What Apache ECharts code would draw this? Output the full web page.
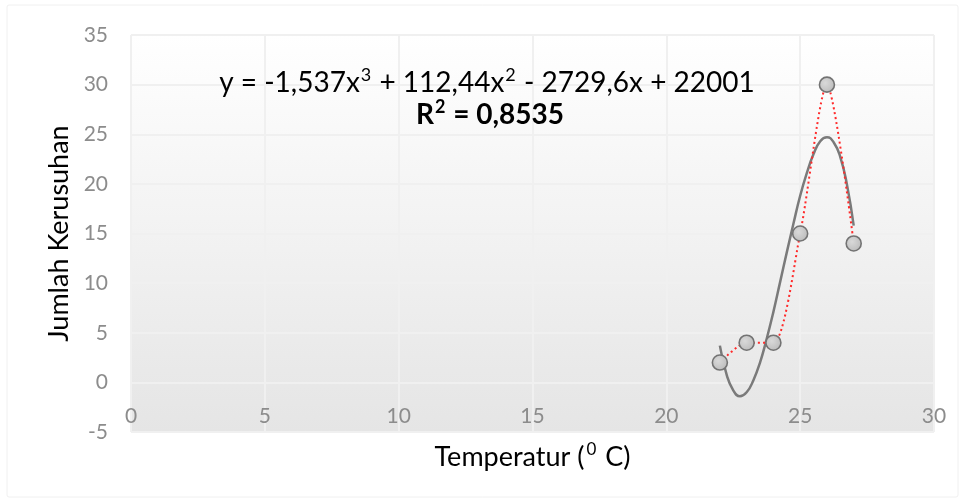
<!DOCTYPE html>
<html>
<head>
<meta charset="utf-8">
<script src="https://cdn.jsdelivr.net/npm/echarts@6/dist/echarts.min.js"></script>
<style>html,body{margin:0;padding:0;background:#fff}#c{width:966px;height:504px}</style>
</head>
<body>
<div id="c"></div>
<script>
// Observed data points
const temps = [22, 23, 24, 25, 26, 27];
const riots = [2, 4, 4, 15, 30, 14];
// Polynomial trendline
const trendX = [22, 22.25, 22.5, 22.75, 23, 23.25, 23.5, 23.75, 24, 24.25, 24.5, 24.75, 25, 25.25, 25.5, 25.75, 26, 26.25, 26.5, 26.75, 27];
const trendY = [3.7, 0.8, -0.8, -1.4, -1.0, 0.2, 2.0, 4.4, 7.1, 10.1, 13.1, 16.0, 18.8, 21.1, 23.0, 24.3, 24.7, 24.2, 22.7, 19.9, 15.8];
const xTicks = [0, 5, 10, 15, 20, 25, 30];
const yTicks = [-5, 0, 5, 10, 15, 20, 25, 30, 35];
const equationText = '{a|y = -1,537x}{s|3}{a| + 112,44x}{s|2}{a| - 2729,6x + 22001}';
const r2Text = '{b|R}{bs|2}{b| = 0,8535}';

const FONT = 'Lato, "Open Sans", sans-serif';
const chart = echarts.init(document.getElementById('c'), null, {renderer: 'canvas'});
const gridCol = '#f0f0f0';
// plot bottom at 432px, value 0 lies 1/8 of 397px above it
const zeroOffset = -397 / 8;
chart.setOption({
  animation: false,
  backgroundColor: '#ffffff',
  grid: {
    left: 131, right: 32, top: 35, bottom: 72,
    show: true, borderWidth: 0,
    backgroundColor: new echarts.graphic.LinearGradient(0, 0, 0, 1, [
      {offset: 0, color: '#ffffff'}, {offset: 1, color: '#e5e5e5'}
    ])
  },
  xAxis: {
    type: 'value', min: xTicks[0], max: xTicks[xTicks.length - 1], interval: 5,
    position: 'bottom', offset: zeroOffset,
    axisLine: {show: true, onZero: false, lineStyle: {color: gridCol, width: 2}},
    axisTick: {show: false},
    splitLine: {show: true, lineStyle: {color: gridCol, width: 2}},
    axisLabel: {color: '#8c8c8c', fontSize: 21, fontFamily: FONT, margin: 23},
    name: '{a|Temperatur (}{s|0}{a| C)}',
    nameLocation: 'middle', nameGap: 59,
    nameTextStyle: {
      rich: {
        a: {fontSize: 27, fontFamily: FONT, color: '#000', lineHeight: 32},
        s: {fontSize: 17, fontFamily: FONT, color: '#000', verticalAlign: 'top', lineHeight: 32, padding: [0, 2, 12, 2]}
      }
    }
  },
  yAxis: {
    type: 'value', min: yTicks[0], max: yTicks[yTicks.length - 1], interval: 5,
    axisLine: {show: false, onZero: false},
    axisTick: {show: false},
    splitLine: {show: true, lineStyle: {color: gridCol, width: 2}},
    axisLabel: {color: '#8c8c8c', fontSize: 21, fontFamily: FONT, margin: 23},
    name: 'Jumlah Kerusuhan',
    nameLocation: 'middle', nameGap: 54,
    nameTextStyle: {fontSize: 27, fontFamily: FONT, color: '#000'}
  },
  series: [
    {
      type: 'line', data: trendX.map((x, i) => [x, trendY[i]]),
      smooth: true, showSymbol: false, symbol: 'none', silent: true,
      lineStyle: {color: '#7a7a7a', width: 2.5}, z: 2
    },
    {
      type: 'line', data: temps.map((x, i) => [x, riots[i]]),
      smooth: 0.25, symbol: 'circle', symbolSize: 15, showSymbol: true,
      lineStyle: {color: '#ff2a2a', width: 2, type: [2, 3]},
      itemStyle: {
        color: new echarts.graphic.RadialGradient(0.4, 0.4, 0.7, [
          {offset: 0, color: '#d9d9d9'}, {offset: 1, color: '#b8b8b8'}
        ]),
        borderColor: '#737373', borderWidth: 1.6
      }, z: 3
    }
  ],
  graphic: [
    {type: 'rect', z: -10, shape: {x: 7, y: 5, width: 951, height: 492, r: 2}, style: {fill: 'none', stroke: '#f0f0f0', lineWidth: 1}, silent: true},
    {type: 'text', z: 100, x: 487, y: 83, style: {
      text: equationText, align: 'center', verticalAlign: 'middle',
      rich: {
        a: {fontSize: 28, fontFamily: FONT, fill: '#000', lineHeight: 34},
        s: {fontSize: 18, fontFamily: FONT, fill: '#000', lineHeight: 34, verticalAlign: 'top', padding: [0, 1, 14, 1]}
      }
    }},
    {type: 'text', z: 100, x: 490, y: 115, style: {
      text: r2Text, align: 'center', verticalAlign: 'middle',
      rich: {
        b: {fontSize: 28, fontFamily: FONT, fontWeight: 'bold', fill: '#000', lineHeight: 34},
        bs: {fontSize: 18, fontFamily: FONT, fontWeight: 'bold', fill: '#000', lineHeight: 34, verticalAlign: 'top', padding: [0, 1, 14, 1]}
      }
    }}
  ]
});
</script>
</body>
</html>
